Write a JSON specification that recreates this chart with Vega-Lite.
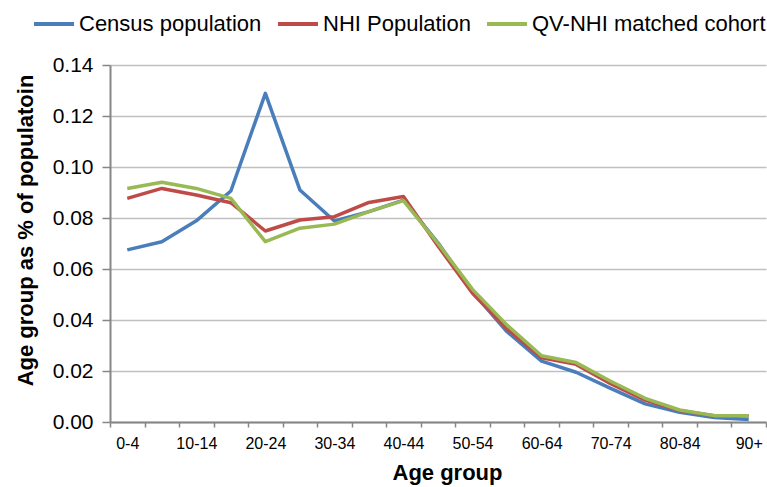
{
  "$schema": "https://vega.github.io/schema/vega-lite/v6.json",
  "width": 656,
  "height": 357,
  "autosize": {"type": "none"},
  "padding": {"left": 110, "top": 65, "right": 1, "bottom": 65},
  "background": "white",
  "config": {
    "view": {"stroke": null},
    "font": "Liberation Sans"
  },
  "datasets": {
    "rows": [
      {"age":"0-4","series":"Census population","v":0.0675},
      {"age":"5-9","series":"Census population","v":0.0707},
      {"age":"10-14","series":"Census population","v":0.0789},
      {"age":"15-19","series":"Census population","v":0.0906},
      {"age":"20-24","series":"Census population","v":0.1289},
      {"age":"25-29","series":"Census population","v":0.091},
      {"age":"30-34","series":"Census population","v":0.0788},
      {"age":"35-39","series":"Census population","v":0.0825},
      {"age":"40-44","series":"Census population","v":0.087},
      {"age":"45-49","series":"Census population","v":0.0703},
      {"age":"50-54","series":"Census population","v":0.051},
      {"age":"55-59","series":"Census population","v":0.0354},
      {"age":"60-64","series":"Census population","v":0.0239},
      {"age":"65-69","series":"Census population","v":0.0195},
      {"age":"70-74","series":"Census population","v":0.0132},
      {"age":"75-79","series":"Census population","v":0.0071},
      {"age":"80-84","series":"Census population","v":0.0038},
      {"age":"85-89","series":"Census population","v":0.0018},
      {"age":"90+","series":"Census population","v":0.001},
      {"age":"0-4","series":"NHI Population","v":0.0877},
      {"age":"5-9","series":"NHI Population","v":0.0916},
      {"age":"10-14","series":"NHI Population","v":0.089},
      {"age":"15-19","series":"NHI Population","v":0.086},
      {"age":"20-24","series":"NHI Population","v":0.0749},
      {"age":"25-29","series":"NHI Population","v":0.0792},
      {"age":"30-34","series":"NHI Population","v":0.0805},
      {"age":"35-39","series":"NHI Population","v":0.0861},
      {"age":"40-44","series":"NHI Population","v":0.0884},
      {"age":"45-49","series":"NHI Population","v":0.069},
      {"age":"50-54","series":"NHI Population","v":0.0505},
      {"age":"55-59","series":"NHI Population","v":0.0365},
      {"age":"60-64","series":"NHI Population","v":0.0252},
      {"age":"65-69","series":"NHI Population","v":0.0226},
      {"age":"70-74","series":"NHI Population","v":0.015},
      {"age":"75-79","series":"NHI Population","v":0.0086},
      {"age":"80-84","series":"NHI Population","v":0.0045},
      {"age":"85-89","series":"NHI Population","v":0.0025},
      {"age":"90+","series":"NHI Population","v":0.0025},
      {"age":"0-4","series":"QV-NHI matched cohort","v":0.0916},
      {"age":"5-9","series":"QV-NHI matched cohort","v":0.094},
      {"age":"10-14","series":"QV-NHI matched cohort","v":0.0916},
      {"age":"15-19","series":"QV-NHI matched cohort","v":0.0877},
      {"age":"20-24","series":"QV-NHI matched cohort","v":0.0707},
      {"age":"25-29","series":"QV-NHI matched cohort","v":0.076},
      {"age":"30-34","series":"QV-NHI matched cohort","v":0.0776},
      {"age":"35-39","series":"QV-NHI matched cohort","v":0.0825},
      {"age":"40-44","series":"QV-NHI matched cohort","v":0.0868},
      {"age":"45-49","series":"QV-NHI matched cohort","v":0.07},
      {"age":"50-54","series":"QV-NHI matched cohort","v":0.052},
      {"age":"55-59","series":"QV-NHI matched cohort","v":0.038},
      {"age":"60-64","series":"QV-NHI matched cohort","v":0.026},
      {"age":"65-69","series":"QV-NHI matched cohort","v":0.0233},
      {"age":"70-74","series":"QV-NHI matched cohort","v":0.016},
      {"age":"75-79","series":"QV-NHI matched cohort","v":0.0093},
      {"age":"80-84","series":"QV-NHI matched cohort","v":0.0047},
      {"age":"85-89","series":"QV-NHI matched cohort","v":0.0025},
      {"age":"90+","series":"QV-NHI matched cohort","v":0.0025}
    ]
  },
  "data": {"name": "rows"},
  "mark": {"type": "line", "strokeWidth": 3.5, "strokeJoin": "round"},
  "encoding": {
    "x": {
      "field": "age",
      "type": "ordinal",
      "sort": null,
      "bandPosition": 0.5,
      "scale": {"type": "band", "paddingInner": 0, "paddingOuter": 0},
      "axis": {
        "title": "Age group",
        "titleFont": "Liberation Sans",
        "titleFontSize": 22,
        "titleFontWeight": "bold",
        "titleColor": "black",
        "titleX": 337,
        "titleY": 57,
        "titleBaseline": "alphabetic",
        "labelAngle": 0,
        "labelFontSize": 16,
        "labelColor": "black",
        "labelPadding": 8,
        "labelOverlap": false,
        "labelExpr": "indexof(['0-4','10-14','20-24','30-34','40-44','50-54','60-64','70-74','80-84','90+'], datum.value) >= 0 ? datum.label : ''",
        "tickBand": "extent",
        "tickSize": 5,
        "tickColor": "#868686",
        "tickWidth": 1.5,
        "domainColor": "#868686",
        "domainWidth": 2,
        "grid": false
      }
    },
    "y": {
      "field": "v",
      "type": "quantitative",
      "scale": {"domain": [0, 0.14], "nice": false},
      "axis": {
        "title": "Age group as % of populatoin",
        "titleFont": "Liberation Sans",
        "titleFontSize": 22,
        "titleFontWeight": "bold",
        "titleColor": "black",
        "titleX": -78,
        "titleY": 165,
        "titleBaseline": "alphabetic",
        "titleAngle": -90,
        "titleAlign": "center",
        "values": [0, 0.02, 0.04, 0.06, 0.08, 0.1, 0.12, 0.14],
        "format": ".2f",
        "labelFontSize": 21,
        "labelColor": "black",
        "labelPadding": 9,
        "tickSize": 8,
        "tickColor": "#868686",
        "tickWidth": 1.5,
        "domainColor": "#868686",
        "domainWidth": 2,
        "grid": true,
        "gridColor": "#c0c0c0",
        "gridWidth": 1.5
      }
    },
    "color": {
      "field": "series",
      "type": "nominal",
      "scale": {
        "domain": ["Census population", "NHI Population", "QV-NHI matched cohort"],
        "range": ["#4a7ebb", "#be4b48", "#98b954"]
      },
      "legend": {
        "title": null,
        "orient": "none",
        "legendX": -78,
        "legendY": -63,
        "direction": "horizontal",
        "symbolType": "stroke",
        "symbolSize": 1600,
        "symbolStrokeWidth": 4,
        "labelFontSize": 22,
        "labelColor": "black",
        "labelOffset": 3,
        "columnPadding": 8,
        "labelLimit": 400
      }
    }
  }
}
